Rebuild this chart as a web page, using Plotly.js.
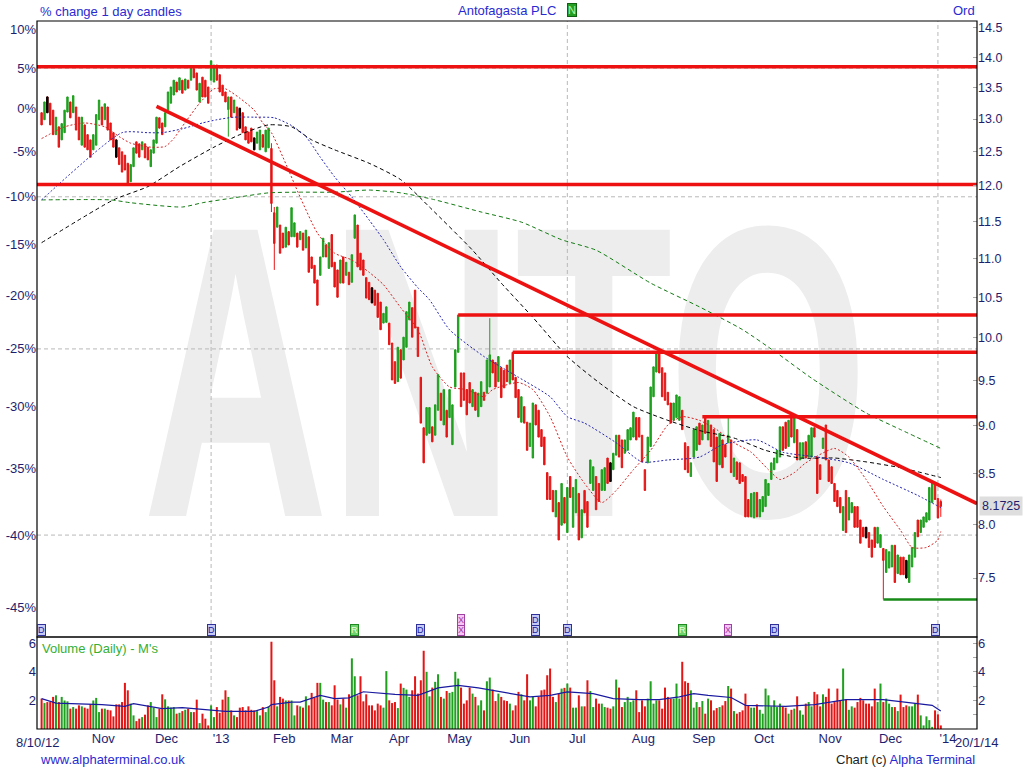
<!DOCTYPE html>
<html><head><meta charset="utf-8">
<script src="https://cdn.plot.ly/plotly-3.0.1.min.js"></script>
<style>html,body{margin:0;padding:0;background:#fff;}#chart{width:1024px;height:768px;}</style>
</head><body><div id="chart"></div>
<script>
// ---------- DATA ----------
const openP = [13.10,12.99,13.35,13.25,13.14,12.76,12.88,12.68,12.79,13.11,
13.27,13.10,13.19,13.03,12.60,12.91,12.76,12.68,12.53,12.60,
12.99,13.19,12.99,13.19,12.94,12.79,12.68,12.56,12.50,12.45,
12.33,12.06,12.28,12.65,12.62,12.53,12.62,12.57,12.28,12.48,
12.63,13.02,12.94,12.88,13.14,13.25,13.38,13.59,13.46,13.62,
13.46,13.62,13.62,13.81,13.74,13.27,13.67,13.62,13.51,13.62,
13.59,13.87,13.71,13.54,13.43,13.15,13.35,13.10,13.19,13.17,
13.10,12.88,12.80,12.86,12.71,12.63,12.53,12.76,12.50,12.56,
12.55,11.62,11.42,11.45,11.34,11.15,11.36,11.29,11.29,11.34,
11.25,11.34,11.14,11.29,11.02,10.91,10.72,10.78,11.02,11.18,
10.87,11.32,10.95,10.85,10.68,11.02,10.78,10.82,10.69,11.27,
11.45,11.07,10.98,10.75,10.69,10.62,10.59,10.55,10.44,10.18,
10.19,10.18,9.94,9.72,9.49,9.86,9.74,9.89,10.22,10.37,
10.59,10.13,9.54,8.98,8.90,8.92,8.99,8.90,9.17,9.36,
9.01,9.17,9.09,8.80,9.43,9.83,9.59,9.59,9.40,9.48,
9.21,9.37,9.10,9.21,9.37,9.36,9.43,9.74,9.71,9.49,
9.65,9.62,9.68,9.47,9.83,9.54,9.40,9.04,9.21,9.04,
8.78,8.66,9.23,9.17,8.96,8.88,8.51,8.47,8.33,8.07,
8.21,7.99,8.26,7.92,8.47,7.97,8.11,8.30,7.87,8.33,
8.22,8.40,8.33,8.47,8.40,8.33,8.33,8.66,8.61,8.54,
8.69,8.90,8.85,8.71,8.74,8.85,8.88,9.09,9.09,8.90,
8.54,8.61,8.78,9.32,9.60,9.86,9.65,9.59,9.37,9.25,
9.06,9.09,9.06,9.17,8.82,8.78,8.47,8.67,8.74,9.03,
8.85,9.09,8.85,9.01,8.96,8.88,8.59,8.85,8.80,8.82,
8.85,8.47,8.62,8.61,8.49,8.47,8.24,8.07,8.06,8.31,
8.07,8.12,8.17,8.28,8.44,8.54,8.61,8.67,8.99,9.04,
8.78,9.10,8.82,8.96,8.64,8.66,8.83,8.67,8.67,8.98,
8.67,8.59,8.76,9.01,8.64,8.57,8.40,8.33,8.26,7.94,
8.33,8.04,8.11,8.17,8.17,8.04,7.97,7.97,7.92,7.85,
7.97,7.82,7.78,7.77,7.55,7.59,7.60,7.80,7.54,7.69,
7.69,7.66,7.46,7.60,7.69,8.04,7.92,7.97,8.02,8.04,
8.21,8.40,8.25,8.22];
const highP = [13.10,13.27,13.35,13.25,13.14,13.03,12.88,12.93,13.14,13.35,
13.27,13.37,13.19,13.03,13.03,12.91,12.76,12.68,12.76,13.07,
13.30,13.19,13.24,13.19,12.94,12.79,12.68,12.56,12.50,12.45,
12.33,12.31,12.56,12.65,12.62,12.65,12.62,12.57,12.53,12.68,
13.03,13.02,12.94,13.10,13.43,13.51,13.62,13.59,13.66,13.62,
13.64,13.62,13.82,13.81,13.74,13.57,13.67,13.62,13.51,13.94,
13.87,13.87,13.71,13.54,13.43,13.35,13.35,13.30,13.19,13.17,
13.10,12.88,12.80,12.86,12.71,12.80,12.83,12.76,12.83,12.86,
12.63,11.70,11.70,11.45,11.34,11.42,11.36,11.69,11.48,11.34,
11.36,11.34,11.38,11.29,11.02,10.91,10.72,11.02,11.27,11.18,
11.21,11.32,10.95,10.85,10.98,11.02,10.95,10.82,11.05,11.59,
11.45,11.07,10.98,10.75,10.69,10.62,10.59,10.55,10.44,10.30,
10.38,10.18,9.94,9.72,9.89,9.86,10.01,10.32,10.44,10.37,
10.59,10.13,9.54,8.98,9.20,9.20,8.99,9.23,9.57,9.36,
9.40,9.17,9.40,9.23,9.86,10.28,9.59,9.59,9.40,9.48,
9.40,9.37,9.36,9.49,9.37,9.74,10.24,9.74,9.71,9.78,
9.65,9.62,9.68,9.74,9.83,9.54,9.40,9.32,9.21,9.04,
9.03,9.25,9.23,9.17,8.96,8.88,8.51,8.47,8.33,8.33,
8.21,8.40,8.26,8.36,8.47,8.36,8.44,8.30,8.14,8.33,
8.22,8.64,8.57,8.47,8.40,8.54,8.56,8.66,8.61,8.71,
8.90,8.90,8.85,8.85,8.96,8.98,9.15,9.09,9.09,8.90,
8.54,8.88,9.43,9.66,9.82,9.86,9.65,9.59,9.37,9.25,
9.25,9.34,9.32,9.17,8.82,8.78,8.61,8.96,8.99,9.03,
9.01,9.09,9.06,9.01,8.96,8.88,8.92,8.85,8.80,9.10,
8.85,8.66,8.62,8.61,8.49,8.47,8.24,8.30,8.31,8.31,
8.24,8.27,8.44,8.40,8.61,8.66,8.74,8.99,8.99,9.04,
9.06,9.10,9.09,8.96,8.82,8.82,8.83,8.90,8.98,8.98,
8.67,8.59,8.87,9.01,8.64,8.57,8.40,8.33,8.26,8.17,
8.33,8.26,8.21,8.17,8.17,8.04,7.97,7.97,7.92,7.85,
7.97,7.97,7.90,7.77,7.76,7.74,7.80,7.80,7.71,7.69,
7.69,7.66,7.71,7.78,7.92,8.04,8.04,8.07,8.11,8.36,
8.42,8.40,8.25,8.24];
const lowP = [12.91,12.99,13.10,12.91,12.76,12.76,12.57,12.68,12.79,13.11,
13.02,13.10,12.83,12.68,12.60,12.57,12.53,12.42,12.53,12.60,
12.99,12.91,12.99,12.83,12.68,12.57,12.42,12.31,12.20,12.23,
12.01,12.06,12.28,12.48,12.42,12.53,12.41,12.38,12.28,12.48,
12.63,12.86,12.76,12.88,13.14,13.25,13.38,13.43,13.46,13.41,
13.46,13.49,13.62,13.66,13.46,13.27,13.35,13.35,13.25,13.62,
13.59,13.62,13.43,13.37,13.27,12.73,13.03,13.10,12.83,12.86,
12.79,12.68,12.63,12.65,12.53,12.63,12.53,12.57,12.50,12.56,
11.63,10.85,11.42,11.07,11.14,11.15,11.18,11.29,11.29,11.15,
11.25,11.11,11.14,10.82,10.87,10.68,10.40,10.78,11.02,11.02,
10.87,10.89,10.63,10.50,10.68,10.68,10.78,10.66,10.69,11.27,
10.89,10.85,10.78,10.49,10.47,10.43,10.40,10.25,10.10,10.18,
10.19,9.92,9.51,9.47,9.49,9.53,9.74,9.89,10.22,10.01,
10.12,9.78,9.03,8.61,8.90,8.92,8.83,8.90,9.17,9.06,
9.01,8.88,9.09,8.80,9.43,9.83,9.21,9.28,9.12,9.25,
9.21,9.17,9.10,9.21,9.28,9.36,9.43,9.59,9.43,9.49,
9.31,9.42,9.49,9.47,9.51,9.31,9.09,9.04,9.03,8.74,
8.78,8.66,9.01,8.88,8.78,8.59,8.24,8.24,8.12,8.07,
7.85,7.99,8.01,7.92,8.26,7.97,8.11,7.85,7.87,8.11,
7.97,8.40,8.33,8.14,8.22,8.33,8.33,8.40,8.42,8.54,
8.69,8.67,8.56,8.71,8.74,8.85,8.88,8.85,8.88,8.62,
8.33,8.61,8.78,9.32,9.60,9.59,9.32,9.28,9.23,9.03,
9.06,9.09,9.06,8.96,8.54,8.51,8.47,8.67,8.74,8.80,
8.85,8.92,8.85,8.78,8.62,8.42,8.59,8.56,8.67,8.82,
8.51,8.47,8.44,8.40,8.42,8.07,8.07,8.07,8.06,8.07,
8.07,8.12,8.17,8.28,8.44,8.54,8.61,8.67,8.74,8.76,
8.78,8.88,8.82,8.64,8.64,8.66,8.66,8.67,8.67,8.88,
8.30,8.44,8.76,8.64,8.42,8.40,8.22,8.17,8.11,7.94,
7.92,8.04,8.11,7.97,7.97,7.82,7.88,7.87,7.78,7.69,
7.78,7.82,7.78,7.31,7.55,7.59,7.60,7.46,7.54,7.53,
7.53,7.50,7.46,7.60,7.69,7.88,7.92,7.97,8.02,8.04,
8.21,8.24,8.06,8.07];
const closeP = [12.91,13.27,13.10,12.91,12.76,13.03,12.57,12.93,13.14,13.35,
13.02,13.37,12.83,12.68,13.03,12.57,12.53,12.42,12.76,13.07,
13.30,12.91,13.24,12.83,12.68,12.57,12.42,12.31,12.20,12.23,
12.01,12.31,12.56,12.48,12.42,12.65,12.41,12.38,12.53,12.68,
13.03,12.86,12.76,13.10,13.43,13.51,13.62,13.43,13.66,13.41,
13.64,13.49,13.82,13.66,13.46,13.57,13.35,13.35,13.25,13.94,
13.87,13.62,13.43,13.37,13.27,13.35,13.03,13.30,12.83,12.86,
12.79,12.68,12.63,12.65,12.53,12.80,12.83,12.57,12.83,12.86,
11.75,11.20,11.70,11.07,11.14,11.42,11.18,11.69,11.48,11.15,
11.36,11.11,11.38,10.82,10.87,10.68,10.40,11.02,11.27,11.02,
11.21,10.89,10.63,10.50,10.98,10.68,10.95,10.66,11.05,11.59,
10.89,10.85,10.78,10.49,10.47,10.43,10.40,10.25,10.10,10.30,
10.38,9.92,9.51,9.47,9.89,9.53,10.01,10.32,10.44,10.01,
10.12,9.78,9.03,8.61,9.20,9.20,8.83,9.23,9.57,9.06,
9.40,8.88,9.40,9.23,9.86,10.28,9.21,9.28,9.12,9.25,
9.40,9.17,9.36,9.49,9.28,9.74,9.80,9.59,9.43,9.78,
9.31,9.42,9.49,9.74,9.51,9.31,9.09,9.32,9.03,8.74,
9.03,9.25,9.01,8.88,8.78,8.59,8.24,8.24,8.12,8.33,
7.85,8.40,8.01,8.36,8.26,8.36,8.44,7.85,8.14,8.11,
7.97,8.64,8.57,8.14,8.22,8.54,8.56,8.40,8.42,8.71,
8.90,8.67,8.56,8.85,8.96,8.98,9.15,8.85,8.88,8.62,
8.33,8.88,9.43,9.66,9.82,9.59,9.32,9.28,9.23,9.03,
9.25,9.34,9.32,8.96,8.54,8.51,8.61,8.96,8.99,8.80,
9.01,8.92,9.06,8.78,8.62,8.42,8.92,8.56,8.67,8.90,
8.51,8.66,8.44,8.40,8.42,8.07,8.07,8.30,8.31,8.07,
8.24,8.27,8.44,8.40,8.61,8.66,8.74,8.99,8.74,8.76,
9.06,8.88,9.09,8.64,8.82,8.82,8.66,8.90,8.98,8.88,
8.30,8.44,8.87,8.64,8.42,8.40,8.22,8.17,8.11,8.17,
7.92,8.26,8.21,7.97,7.97,7.82,7.88,7.87,7.78,7.69,
7.78,7.97,7.90,7.66,7.76,7.74,7.80,7.46,7.71,7.53,
7.53,7.50,7.71,7.78,7.92,7.88,8.04,8.07,8.11,8.36,
8.42,8.24,8.06,8.1725];
// days drawn as black candles in the reference
const blackDays = [2, 26, 69, 74, 115, 198, 287, 301];
const volumeM = [2.12,1.81,1.88,1.88,2.24,2.35,1.88,2.24,1.99,1.93,
1.42,1.53,1.42,1.65,1.58,1.49,1.42,1.72,1.99,2.17,
1.18,1.42,1.42,1.34,1.30,0.88,1.72,1.72,1.88,3.22,
2.70,1.77,0.95,0.55,0.72,0.83,1.00,1.65,1.88,1.49,
0.83,1.42,2.42,2.07,1.58,1.49,1.53,1.07,1.13,1.25,
1.34,1.42,1.18,1.18,2.05,0.41,1.07,0.72,0.25,1.65,
0.83,1.53,1.13,2.05,2.70,2.24,1.30,0.95,0.83,1.49,
1.53,1.30,1.58,1.34,1.30,1.25,0.95,1.53,1.18,1.58,
6.09,3.40,1.58,2.24,2.12,1.99,1.99,1.99,0.95,1.65,
1.58,1.49,2.28,1.65,2.52,2.17,3.22,3.22,2.05,1.88,
1.88,1.65,3.05,2.05,1.72,2.12,1.49,2.42,4.93,3.68,
2.35,3.68,1.93,2.42,1.65,1.65,1.30,1.77,1.65,1.49,
4.04,2.00,1.81,1.88,1.46,3.17,2.87,2.75,2.24,2.70,
3.68,2.47,3.40,5.46,3.99,2.28,2.89,3.29,3.82,2.24,
2.12,2.65,2.52,2.59,3.99,3.52,2.89,1.77,2.00,2.89,
2.47,2.24,1.65,2.00,1.30,3.33,3.59,2.75,1.95,2.47,
2.24,2.00,1.95,1.77,1.30,1.65,2.59,2.42,2.00,3.82,
2.00,2.24,1.58,2.24,2.70,2.75,3.75,4.22,2.24,1.88,
2.47,2.82,2.87,3.17,2.89,1.49,1.49,2.35,1.58,1.58,
3.40,2.65,1.53,2.12,1.77,1.77,1.53,1.49,1.42,1.58,
3.45,2.89,1.53,1.88,2.24,1.88,2.00,2.70,1.18,2.00,
1.58,2.12,3.33,1.77,2.00,2.00,1.42,2.89,2.24,2.12,
2.12,3.17,2.12,4.69,3.33,3.22,2.70,1.49,1.88,1.53,
1.95,1.07,2.12,2.00,1.30,1.46,1.53,1.65,1.95,3.00,
2.82,1.25,1.07,1.18,1.30,2.47,1.65,1.49,1.49,1.72,
1.34,1.07,2.82,2.35,1.58,2.00,1.53,1.77,1.58,1.49,
1.07,1.34,1.42,2.28,1.30,1.00,1.77,1.88,1.58,2.59,
2.42,1.58,2.42,2.24,2.82,1.77,1.88,2.82,2.00,4.22,
2.05,1.34,1.58,1.49,1.88,2.17,2.00,1.77,1.77,1.58,
2.82,1.88,3.17,1.88,2.12,1.77,1.53,1.53,1.25,2.40,
1.53,1.65,1.58,1.58,1.77,2.40,0.95,0.25,0.88,0.62,
0.15,1.30,1.02,0.25];

// moving averages (trading-day index, value)
const maRedIdx = [0,8,15,22,27,31,38,43,46,50,55,60,64,69,74,77,80,84,90,96,102,108,114,119,125,131,136,142,148,154,157,166,171,177,183,189,195,200,206,212,218,223,229,235,241,247,253,257,262,266,276,281,287,293,299,303,308,312,313];
const maRedVal = [12.70,12.88,12.94,12.88,12.73,12.63,12.57,12.58,12.70,12.95,13.25,13.48,13.48,13.33,13.14,12.94,12.79,12.42,11.84,11.34,11.07,10.98,10.82,10.66,10.37,10.10,9.66,9.43,9.40,9.32,9.40,9.48,9.40,9.10,8.67,8.40,8.21,8.33,8.54,8.74,9.01,9.10,9.06,8.96,8.82,8.72,8.54,8.44,8.51,8.61,8.76,8.67,8.44,8.17,7.94,7.78,7.78,7.85,7.93];
const maBlueIdx = [0,28,37,42,49,56,61,67,74,81,87,92,97,102,108,114,119,125,131,135,142,154,166,177,183,189,200,209,218,229,237,249,258,270,281,293,305,313];
const maBlueVal = [11.80,12.79,12.79,12.79,12.85,12.94,12.99,13.03,13.03,13.02,12.90,12.73,12.42,12.13,11.84,11.52,11.25,10.89,10.62,10.47,10.10,9.78,9.54,9.32,9.10,9.03,8.82,8.62,8.64,8.67,8.80,8.85,8.72,8.67,8.61,8.44,8.28,8.16];
const maBlackIdx = [0,25,37,48,60,69,79,87,94,102,114,125,135,150,160,171,183,194,206,218,229,241,252,264,276,287,299,313];
const maBlackVal = [11.21,11.80,11.99,12.28,12.57,12.76,12.91,12.88,12.68,12.53,12.33,12.09,11.70,11.11,10.68,10.25,9.78,9.48,9.21,9.06,8.95,8.87,8.74,8.66,8.66,8.62,8.56,8.46];
const maGreenIdx = [0,24,31,49,56,67,79,90,102,114,125,136,153,167,181,193,212,229,244,256,268,287,299,313];
const maGreenVal = [11.80,11.80,11.76,11.70,11.76,11.83,11.90,11.91,11.91,11.94,11.90,11.81,11.63,11.49,11.25,11.11,10.68,10.38,10.10,9.82,9.53,9.14,8.96,8.76];
const volMaIdx = [0,5,21,29,32,42,49,56,60,64,74,79,80,87,90,97,102,107,112,123,131,138,145,152,160,170,177,183,192,199,208,215,222,227,232,240,245,259,269,280,293,305,310,313];
const volMaVal = [2.12,1.81,1.70,1.58,1.77,1.42,1.49,1.34,1.30,1.23,1.23,1.53,1.70,1.88,1.88,2.35,2.12,2.17,2.60,2.42,2.35,2.87,3.05,2.87,2.59,2.24,2.35,2.59,2.47,2.12,2.05,2.05,2.24,2.47,2.35,2.20,1.65,1.58,1.70,2.05,2.05,1.77,1.65,1.25];

// drawn resistance / support / trend lines
const resistPrice = [13.84, 12.02, 10.28, 9.83, 9.10];
const resistFrom  = [null, null, 145, 164, 230];
const supportPrice = [7.31];
const supportFrom  = [293];
const trendIdx = [40, 325.6];
const trendVal = [13.20, 8.20];

// event flags along the bottom of the price pane
const eventIdx  = [0, 59, 109, 132, 146, 146, 172, 172, 183, 223, 239, 255, 311];
const eventCode = ['D','D','R','D','X','X','D','D','D','R','X','D','D'];

// axis labels
const pctTicks   = [10,5,0,-5,-10,-15,-20,-25,-30,-35,-40,-45];
const priceTicks = [7.5,8.0,8.5,9.0,9.5,10.0,10.5,11.0,11.5,12.0,12.5,13.0,13.5,14.0,14.5];
const monthIdx   = [18,40,59,81,101,121,142,163,183,206,227,248,271,292,312];
const monthLbl   = ['Nov','Dec',"'13",'Feb','Mar','Apr','May','Jun','Jul','Aug','Sep','Oct','Nov','Dec',"'14"];
const volTicks   = [1,2,3,4,5,6];
const volLbl     = ['','2','','4','','6'];
const basePrice  = 13.16;   // 0% level
const startLabel = '8/10/12';
const endLabel   = '20/1/14';

// ---------- STYLE / LAYOUT ----------
const FONT = 'Liberation Sans, Arial, sans-serif';
const NAVY = '#1e1e6e', BLUE = '#2a2ad2';
const GREEN = '#1fa01f', RED = '#e51515';
const X_MIN = -1.6, X_MAX = 325.6;
const P_LO = 6.988, P_HI = 14.622;
const VOL_TOP = 92/708;
const WM_TEXT = 'ANTO', WM_SCALE = 0.62;
const L10 = Math.log10;

const N = closeP.length;
const xs = closeP.map((_, i) => i);
const volColors = closeP.map((c, i) => c >= openP[i] ? GREEN : RED);

const data = [];
data.push({type:'scatter', x:[0], y:[1], mode:'markers', marker:{opacity:0}, xaxis:'x', yaxis:'y', hoverinfo:'skip'});
data.push({type:'candlestick', x:xs, open:openP, high:highP, low:lowP, close:closeP,
  xaxis:'x', yaxis:'y2', whiskerwidth:0,
  increasing:{line:{color:GREEN, width:1}, fillcolor:GREEN},
  decreasing:{line:{color:RED, width:1}, fillcolor:RED}, hoverinfo:'skip'});
data.push({type:'candlestick', x:blackDays,
  open:blackDays.map(i => openP[i]), high:blackDays.map(i => highP[i]),
  low:blackDays.map(i => lowP[i]), close:blackDays.map(i => closeP[i]),
  xaxis:'x', yaxis:'y2', whiskerwidth:0,
  increasing:{line:{color:'#000', width:1}, fillcolor:'#000'},
  decreasing:{line:{color:'#000', width:1}, fillcolor:'#000'}, hoverinfo:'skip'});
function maLine(x, y, color, dash){
  return {type:'scatter', mode:'lines', x:x, y:y, xaxis:'x', yaxis:'y2',
    line:{color:color, width:1, dash:dash, shape:'spline', smoothing:0.6}, hoverinfo:'skip'};
}
data.push(maLine(maGreenIdx, maGreenVal, '#127a12', '4px,3px'));
data.push(maLine(maBlackIdx, maBlackVal, '#000000', '4px,3px'));
data.push(maLine(maBlueIdx, maBlueVal, '#2323b4', '2px,2px'));
data.push(maLine(maRedIdx, maRedVal, '#d42020', '2px,2px'));
resistPrice.forEach((p, k) => {
  const x0 = resistFrom[k] === null ? X_MIN : resistFrom[k];
  data.push({type:'scatter', mode:'lines', x:[x0, X_MAX], y:[p, p], xaxis:'x', yaxis:'y2',
    line:{color:'#ee1111', width:3.5}, hoverinfo:'skip'});
});
supportPrice.forEach((p, k) => {
  data.push({type:'scatter', mode:'lines', x:[supportFrom[k], X_MAX], y:[p, p], xaxis:'x', yaxis:'y2',
    line:{color:'#178a17', width:2.5}, hoverinfo:'skip'});
});
data.push({type:'scatter', mode:'lines', x:trendIdx, y:trendVal, xaxis:'x', yaxis:'y2',
  line:{color:'#ee1111', width:3.5}, hoverinfo:'skip'});
data.push({type:'bar', x:xs, y:volumeM, width:0.7, marker:{color:volColors, line:{width:0}},
  xaxis:'x', yaxis:'y3', hoverinfo:'skip'});
data.push({type:'scatter', mode:'lines', x:volMaIdx, y:volMaVal, xaxis:'x', yaxis:'y4',
  line:{color:'#1a1aa0', width:1.2}, hoverinfo:'skip'});

const tickFont = {family:FONT, size:13, color:NAVY};
const shapes = [];
// grid lines
[5,-10,-25,-40].forEach(p => shapes.push({type:'line', layer:'below', xref:'paper', yref:'y',
  x0:0, x1:1, y0:1+p/100, y1:1+p/100, line:{color:'#b8b8b8', width:1, dash:'4px,3px'}}));
[59,183,312].forEach(i => shapes.push({type:'line', layer:'below', xref:'x', yref:'paper',
  x0:i, x1:i, y0:0, y1:1, line:{color:'#b8b8b8', width:1, dash:'4px,3px'}}));
// frames
shapes.push({type:'rect', layer:'above', xref:'paper', yref:'paper', x0:0, x1:1, y0:VOL_TOP, y1:1, line:{color:'#000', width:1.2}});
shapes.push({type:'rect', layer:'above', xref:'paper', yref:'paper', x0:0, x1:1, y0:0, y1:VOL_TOP, line:{color:'#000', width:1.2}});

const annotations = [];
annotations.push({text:WM_TEXT, xref:'paper', yref:'paper', x:0.498, y:0.5056, showarrow:false,
  xanchor:'center', yanchor:'middle', font:{family:FONT, size:416, color:'#ededed', weight:'bold'}});
annotations.push({text:'% change 1 day candles', xref:'paper', yref:'paper', x:0.001, y:1.0141,
  xanchor:'left', yanchor:'middle', showarrow:false, font:{family:FONT, size:13, color:BLUE}});
annotations.push({text:'Antofagasta PLC', xref:'paper', yref:'paper', x:0.4995, y:1.0155,
  xanchor:'center', yanchor:'middle', showarrow:false, font:{family:FONT, size:13, color:BLUE}});
annotations.push({text:'Ord', xref:'paper', yref:'paper', x:1, y:1.0155,
  xanchor:'right', yanchor:'middle', showarrow:false, font:{family:FONT, size:13, color:BLUE}});
annotations.push({text:'N', xref:'x', yref:'paper', x:183, y:1, xanchor:'left', yanchor:'bottom', yshift:4,
  showarrow:false, bgcolor:'#23a023', bordercolor:'#0f600f', borderwidth:1, borderpad:0,
  font:{family:FONT, size:11, color:'#a8f5a8'}});
annotations.push({text:"Volume (Daily) - M's", xref:'paper', yref:'paper', x:0.003, y:0.1144,
  xanchor:'left', yanchor:'middle', showarrow:false, font:{family:FONT, size:13, color:'#35b035'}});
annotations.push({text:'www.alphaterminal.co.uk', xref:'paper', yref:'paper', x:0.001, y:-0.0424,
  xanchor:'left', yanchor:'middle', showarrow:false, font:{family:FONT, size:13, color:BLUE}});
annotations.push({text:'Chart (c) <span style="color:' + BLUE + '">Alpha Terminal</span>', xref:'paper', yref:'paper',
  x:0.9995, y:-0.0424, xanchor:'right', yanchor:'middle', showarrow:false, font:{family:FONT, size:13, color:'#222'}});
annotations.push({text:startLabel, xref:'paper', yref:'paper', x:0.001, y:-0.0184,
  xanchor:'center', yanchor:'middle', showarrow:false, font:tickFont});
annotations.push({text:endLabel, xref:'paper', yref:'paper', x:0.999, y:-0.0184,
  xanchor:'center', yanchor:'middle', showarrow:false, font:tickFont});
annotations.push({text:String(closeP[N-1]), xref:'paper', yref:'y2', x:1, y:L10(closeP[N-1]),
  xanchor:'left', yanchor:'middle', xshift:2, showarrow:false, bgcolor:'#dedede', borderpad:2,
  font:{family:FONT, size:12.5, color:NAVY}});
const evStyle = {
  D:{bg:'#c4c8f4', bd:'#30309a', fg:'#20209a'},
  R:{bg:'#6fd46f', bd:'#1f8a1f', fg:'#eaffea'},
  X:{bg:'#f7c4f7', bd:'#a040a0', fg:'#a040a0'}
};
const stackCount = {};
eventIdx.forEach((i, k) => {
  const lvl = stackCount[i] || 0; stackCount[i] = lvl + 1;
  const st = evStyle[eventCode[k]];
  annotations.push({text:eventCode[k], xref:'x', yref:'paper', x:i, y:VOL_TOP, yanchor:'bottom',
    xanchor:'center', yshift:1 + lvl*10.5, showarrow:false, bgcolor:st.bg, bordercolor:st.bd,
    borderwidth:1, borderpad:0, font:{family:FONT, size:9, color:st.fg}});
});

const layout = {
  width:1024, height:768, margin:{l:37, r:47, t:21, b:39, pad:0},
  paper_bgcolor:'#ffffff', plot_bgcolor:'rgba(0,0,0,0)', showlegend:false, hovermode:false,
  font:{family:FONT, size:13, color:NAVY},
  xaxis:{type:'linear', range:[X_MIN, X_MAX], domain:[0,1], anchor:'y3', tickvals:monthIdx, ticktext:monthLbl,
    ticks:'', showgrid:false, zeroline:false, showline:false, tickfont:tickFont, ticklabelshift:10,
    rangeslider:{visible:false}, fixedrange:true},
  yaxis:{type:'log', domain:[VOL_TOP,1], anchor:'x', side:'left',
    range:[L10(P_LO/basePrice), L10(P_HI/basePrice)],
    tickvals:pctTicks.map(p => 1 + p/100), ticktext:pctTicks.map(p => p + '%'),
    ticks:'', showgrid:false, zeroline:false, showline:false, tickfont:tickFont, fixedrange:true},
  yaxis2:{type:'log', overlaying:'y', anchor:'x', side:'right', range:[L10(P_LO), L10(P_HI)],
    tickvals:priceTicks, ticktext:priceTicks.map(v => v.toFixed(1)),
    ticks:'inside', ticklen:4, tickcolor:'#a8a8a8', showgrid:false, zeroline:false, showline:false,
    tickfont:{family:FONT, size:12.5, color:NAVY}, fixedrange:true},
  yaxis3:{domain:[0,VOL_TOP], anchor:'x', side:'left', range:[0,6.42], tickvals:volTicks, ticktext:volLbl,
    ticks:'', showgrid:false, zeroline:false, showline:false, tickfont:tickFont, fixedrange:true},
  yaxis4:{overlaying:'y3', anchor:'x', side:'right', range:[0,6.42], tickvals:volTicks, ticktext:volLbl,
    ticks:'inside', ticklen:4, tickcolor:'#a8a8a8', showgrid:false, zeroline:false, showline:false,
    tickfont:tickFont, fixedrange:true},
  shapes:shapes, annotations:annotations
};

const gd = document.getElementById('chart');
Plotly.newPlot(gd, data, layout, {staticPlot:true, displayModeBar:false}).then(function(){
  const anns = gd.querySelectorAll('g.annotation');
  for (let k = 0; k < anns.length; k++) {
    const a = anns[k];
    const t = a.querySelector('text');
    if (t && t.textContent === WM_TEXT) {
      const bb = t.getBBox();
      const cx = bb.x + bb.width/2;
      t.setAttribute('transform', 'translate(' + cx + ',0) scale(' + WM_SCALE + ',1) translate(' + (-cx) + ',0)');
      const host = gd.querySelector('.layer-below');
      if (host) host.insertBefore(a, host.firstChild);
    }
  }
});
</script></body></html>
